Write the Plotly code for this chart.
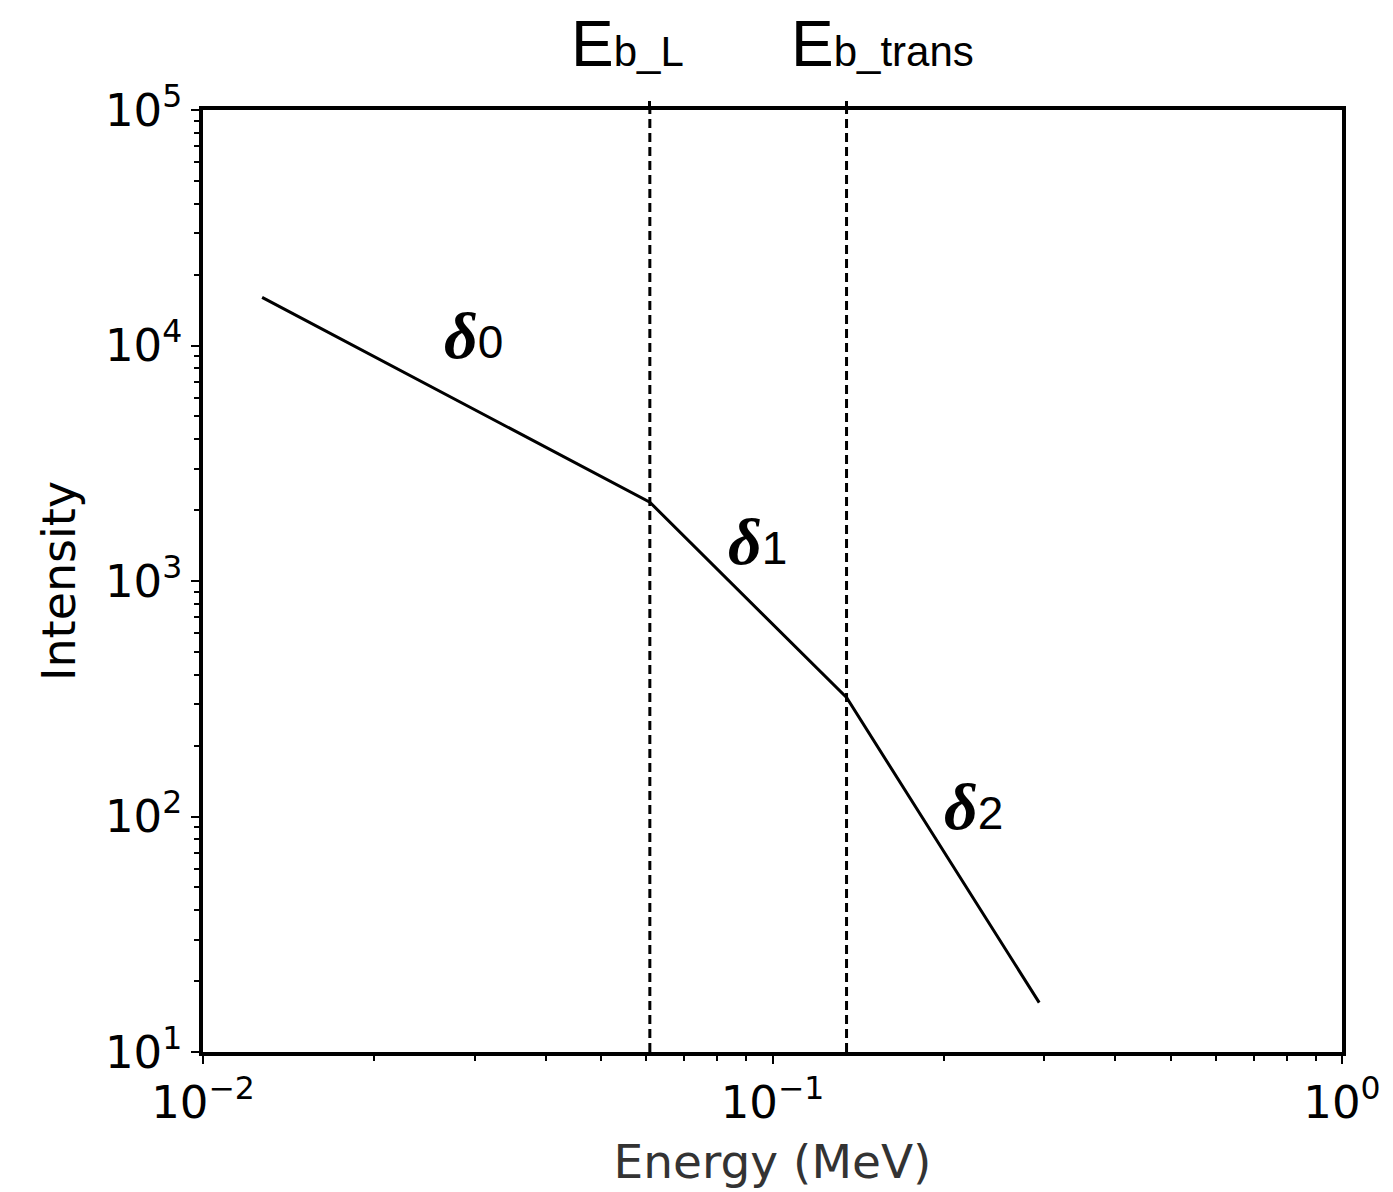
import numpy as np
import plotly.graph_objects as go

# Broken power-law spectrum: end points and the two break energies (MeV)
energy = [0.0127, 0.0609, 0.1349, 0.294]
intensity = [16000, 2160, 320, 16.2]

break_energies = [0.0609, 0.1349]
break_labels = ["E<span style='font-size:42px'>b_L</span>",
                "E<span style='font-size:42px'>b_trans</span>"]
break_label_shift = [-22, 36]

# Spectral index labels and their anchor points (energy, intensity)
index_names = ["0", "1", "2"]
index_x = [0.0298, 0.0940, 0.2250]
index_y = [11000, 1470, 110]

x_tickvals = [1e-2, 1e-1, 1e0]
x_ticktext = ["10<sup>−2</sup>", "10<sup>−1</sup>", "10<sup>0</sup>"]
y_tickvals = [1e1, 1e2, 1e3, 1e4, 1e5]
y_ticktext = ["10<sup>1</sup>", "10<sup>2</sup>", "10<sup>3</sup>", "10<sup>4</sup>", "10<sup>5</sup>"]

fig = go.Figure()

# Dashed markers for the break energies
for e in break_energies:
    fig.add_trace(go.Scatter(
        x=[e, e], y=[10, 1e5], mode="lines",
        line=dict(color="black", width=3, dash="9px,5px"),
        showlegend=False, hoverinfo="skip",
    ))

# The spectrum itself
fig.add_trace(go.Scatter(
    x=energy, y=intensity, mode="lines",
    line=dict(color="black", width=3),
    showlegend=False,
))

# Invisible trace that activates the top axis (tick marks at the breaks)
fig.add_trace(go.Scatter(
    x=break_energies, y=[10, 10], xaxis="x2", mode="markers",
    marker=dict(opacity=0), showlegend=False, hoverinfo="skip",
))

# Break-energy labels above the frame
for e, lab, dx in zip(break_energies, break_labels, break_label_shift):
    fig.add_annotation(
        x=np.log10(e), y=1, xref="x", yref="paper", yshift=28,
        text=lab, showarrow=False, xshift=dx,
        font=dict(family="Liberation Sans", size=64, color="black"),
        xanchor="center", yanchor="bottom",
    )

# Spectral index labels
for name, xv, yv in zip(index_names, index_x, index_y):
    fig.add_annotation(
        x=np.log10(xv), y=np.log10(yv),
        text=("<b><i>δ</i></b><span style='font-family:Liberation Sans;"
              f"font-size:46px'>{name}</span>"),
        showarrow=False,
        font=dict(family="Liberation Serif", size=66, color="black"),
        xanchor="center", yanchor="middle",
    )

tick_font = dict(family="DejaVu Sans", size=45, color="black")

fig.update_layout(
    width=1393, height=1192,
    margin=dict(l=203, r=43, t=110, b=131),
    paper_bgcolor="white", plot_bgcolor="white",
    xaxis=dict(
        type="log", range=[-2, 0],
        tickvals=x_tickvals, ticktext=x_ticktext,
        ticks="outside", ticklen=8, tickwidth=2, tickcolor="black",
        minor=dict(ticks="outside", ticklen=5, tickwidth=1.5, tickcolor="black",
                   dtick="D1", showgrid=False),
        showline=True, linewidth=3.5, linecolor="black", mirror=True,
        showgrid=False, zeroline=False,
        tickfont=tick_font,
        title=dict(text="Energy (MeV)", font=dict(family="DejaVu Sans", size=47, color="#333"),
                   standoff=18),
    ),
    xaxis2=dict(
        type="log", range=[-2, 0], overlaying="x", side="top",
        tickvals=break_energies, showticklabels=False,
        ticks="outside", ticklen=8, tickwidth=3, tickcolor="black",
        showgrid=False, zeroline=False, showline=False,
    ),
    yaxis=dict(
        type="log", range=[1, 5],
        tickvals=y_tickvals, ticktext=y_ticktext,
        ticks="outside", ticklen=8, tickwidth=2, tickcolor="black",
        minor=dict(ticks="outside", ticklen=5, tickwidth=1.5, tickcolor="black",
                   dtick="D1", showgrid=False),
        showline=True, linewidth=3.5, linecolor="black", mirror=True,
        showgrid=False, zeroline=False,
        tickfont=tick_font,
        title=dict(text="Intensity", font=dict(family="DejaVu Sans", size=46, color="black"),
                   standoff=16),
    ),
)

fig.write_html("out.html")
